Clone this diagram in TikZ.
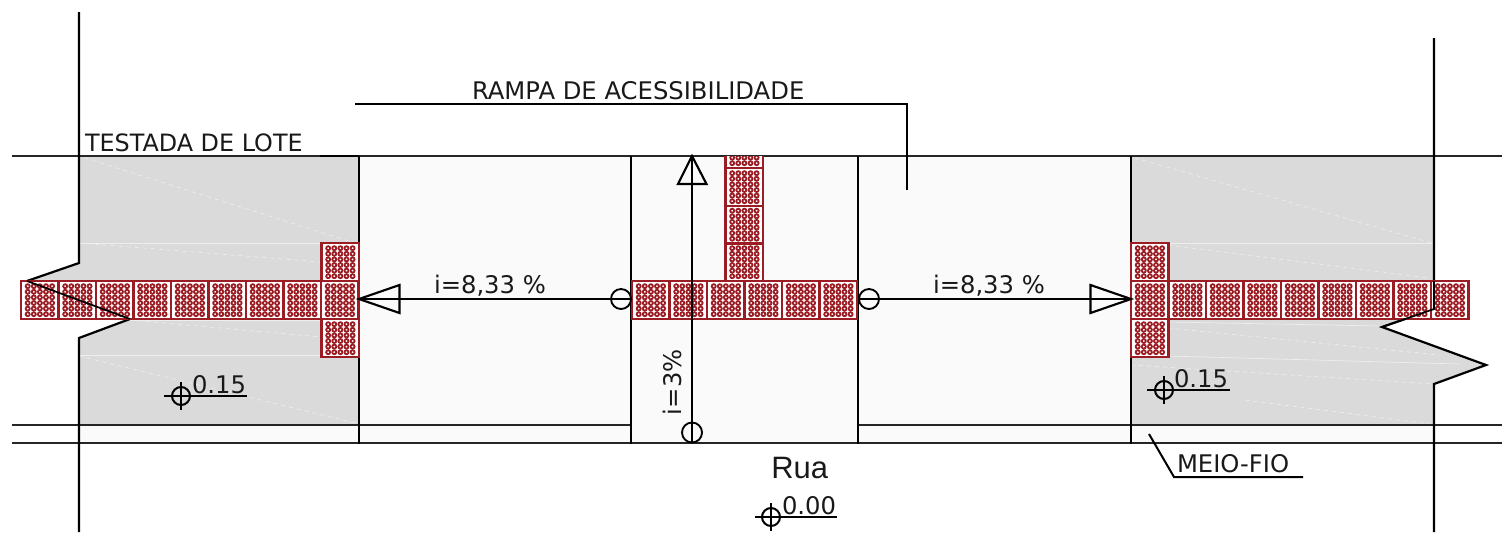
\documentclass[tikz,border=0pt]{standalone}
\usepackage{fontspec}
\setmainfont{DejaVu Sans}
\newfontfamily\ruafont{Liberation Sans}
\definecolor{tilered}{HTML}{9C1C24}
\definecolor{lotgray}{HTML}{DADADA}
\definecolor{rampfill}{HTML}{FAFAFA}
\tikzset{
  lbl/.style={inner sep=0pt,outer sep=0pt,anchor=base west,text=black!90,font=\fontsize{18.2}{22}\selectfont},
  ink/.style={draw=black,line width=1.65pt},
  thin ink/.style={draw=black,line width=1.5pt},
  road/.style={draw=black!85,line width=1.7pt},
  faint/.style={draw=white!55!lotgray,line width=0.5pt},
  tilebox/.style={draw=tilered,line width=1.9pt,fill=white},
  stud/.style={draw=tilered,line width=1.35pt,fill=white},
  pivot/.style={circle,draw=black,line width=1.4pt,fill=none,minimum size=15pt,inner sep=0pt},
  levelring/.style={circle,draw=black,line width=1.5pt,minimum size=13.5pt,inner sep=0pt},
  headtri/.style={draw=black,line width=1.6pt,fill=none,line join=miter},
}
% \tileat{x}{y}: 37.5 x 38 px paving tile, left top at (x,y)
\newcommand{\tileat}[2]{%
  \path[tilebox] (#1,#2) rectangle +(37.5,38);
  \foreach \cx in {0,1,2,3,4}{\foreach \cy in {0,1,2,3,4,5}{%
    \path[stud] (#1+6.7+6.1*\cx,#2+5.2+5.6*\cy) circle[radius=2.0];}}%
}
\begin{document}
\begin{tikzpicture}[x=0.75pt,y=-0.75pt]
\useasboundingbox (0,0) rectangle (1502,532);
% surfaces
\fill[rampfill] (359,156) rectangle (1131,443);
\fill[rampfill] (79,425) rectangle (359,443);
\fill[rampfill] (1131,425) rectangle (1434,443);
\fill[lotgray] (79,156) -- (359,156) -- (359,425) -- (79,425) -- (79,338) -- (130,319) -- (27,281) -- (79,263) -- cycle;
\fill[lotgray] (1131,156) -- (1434,156) -- (1434,309) -- (1382,327) -- (1486,365) -- (1434,384) -- (1434,425) -- (1131,425) -- cycle;
% faint hatch traces
\draw[faint,dashed] (85,158) -- (355,243);
\draw[faint] (79,243) -- (321,243);
\draw[faint,dashed] (79,243) -- (321,262);
\draw[faint] (130,320) -- (359,320);
\draw[faint,dashed] (130,320) -- (321,337);
\draw[faint] (79,355) -- (321,355);
\draw[faint,dashed] (79,356) -- (355,423);
\draw[faint,dashed] (1135,158) -- (1432,243);
\draw[faint] (1168,243) -- (1434,243);
\draw[faint,dashed] (1168,245) -- (1430,278);
\draw[faint] (1168,322) -- (1380,326);
\draw[faint,dashed] (1168,328) -- (1440,355);
\draw[faint] (1131,355) -- (1460,364);
\draw[faint,dashed] (1131,365) -- (1434,384);
\draw[faint,dashed] (1245,400) -- (1430,424);
% building lines
\draw[road] (12,156) -- (1502,156);
\draw[ink] (320,156) -- (359,156);
\draw[road] (12,425) -- (631,425);
\draw[road] (858,425) -- (1502,425);
\draw[road] (12,443) -- (1502,443);
\draw[ink] (79,12) -- (79,263) -- (27,281);
\draw[ink] (130,319) -- (79,338) -- (79,532);
\draw[ink] (1434,38) -- (1434,309) -- (1382,327) -- (1486,365) -- (1434,384) -- (1434,532);
\draw[ink] (359,156) -- (359,444);
\draw[ink] (631,156) -- (631,444);
\draw[ink] (858,156) -- (858,444);
\draw[ink] (1131,156) -- (1131,444);
% tiles, left band
\foreach \k in {0,...,8}{\tileat{21+37.5*\k}{281}}
\tileat{321.5}{243}
\tileat{321.5}{319}
% tiles, centre
\foreach \k in {0,...,5}{\tileat{632+37.5*\k}{281}}
\tileat{725.5}{243}
\tileat{725.5}{205.5}
\tileat{725.5}{168}
\begin{scope}
\clip (720,156) rectangle (770,168);
\tileat{725.5}{130}
\end{scope}
\draw[tilered,line width=1.9pt] (725.5,156) -- (725.5,168) (763,156) -- (763,168);
% tiles, right band
\foreach \k in {0,...,8}{\tileat{1131+37.5*\k}{281}}
\tileat{1131}{243}
\tileat{1131}{319}
% lines that run over the tiles
\draw[draw=black,line width=1.3pt] (27,281) -- (130,319);
\draw[draw=black,line width=1.3pt] (1434,281) -- (1434,309) -- (1382,327);
\draw[draw=black,line width=1.2pt] (692,281) -- (692,319);
% slope arrows
\node[pivot] (pl) at (621,299) {};
\node[pivot] (pr) at (869,299) {};
\node[pivot] (pu) at (692,432.5) {};
\coordinate (al) at (359,299);
\coordinate (ar) at (1131,299);
\coordinate (au) at (692,156);
\draw[ink,line width=1.6pt] (pl.east) -- (al);
\draw[ink,line width=1.6pt] (pr.west) -- (ar);
\draw[ink,line width=1.6pt] (pu.south) -- (au);
\draw[headtri] (al) -- (399.5,285) -- (399.5,313) -- cycle;
\draw[headtri] (ar) -- (1090.5,285) -- (1090.5,313) -- cycle;
\draw[headtri] (au) -- (678,184) -- (706.5,184) -- cycle;
\node[lbl] (il) at (434,293) {i=8,33 \%};
\node[lbl] (ir) at (933,293) {i=8,33 \%};
\node[lbl,rotate=90] (iu) at (681,415) {i=3\%};
% leaders and labels
\coordinate (r1) at (355,104);
\coordinate (r2) at (907,104);
\coordinate (r3) at (907,190);
\draw[thin ink] (r1) -- (r2) -- (r3);
\node[lbl] (rampa) at (472,99) {RAMPA DE ACESSIBILIDADE};
\node[lbl,font=\fontsize{17.9}{22}\selectfont] (testada) at (85,151) {TESTADA DE LOTE};
\node[inner sep=0pt,anchor=base west,font=\ruafont\fontsize{23.2}{27}\selectfont,text=black!90] (rua) at (771,478) {Rua};
\coordinate (m1) at (1149,434);
\coordinate (m2) at (1174,477);
\coordinate (m3) at (1303,477);
\draw[thin ink] (m1) -- (m2) -- (m3);
\node[lbl] (meio) at (1177,472) {MEIO-FIO};
% level marks
\node[levelring] (lv1) at (181,396) {};
\draw[thin ink] (164,396) -- (247,396);
\draw[thin ink] (181,382) -- (181,410);
\node[lbl] (t1) at (192,393) {0.15};
\node[levelring] (lv2) at (1164,390) {};
\draw[thin ink] (1147,390) -- (1230,390);
\draw[thin ink] (1164,376) -- (1164,404);
\node[lbl] (t2) at (1174,387) {0.15};
\node[levelring] (lv3) at (771,517) {};
\draw[thin ink] (755,517) -- (837,517);
\draw[thin ink] (771,503) -- (771,531);
\node[lbl] (t3) at (782,514) {0.00};
\end{tikzpicture}
\end{document}
